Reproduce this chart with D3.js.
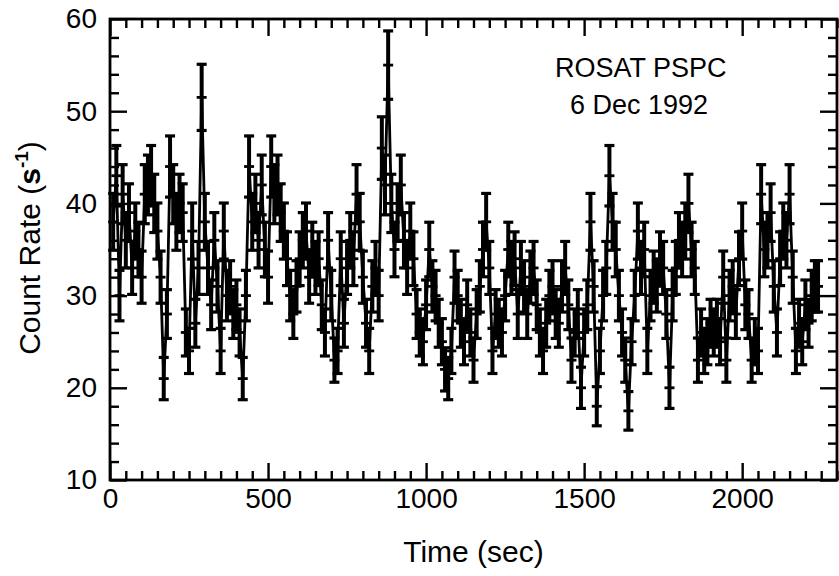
<!DOCTYPE html>
<html>
<head>
<meta charset="utf-8">
<script src="https://cdn.jsdelivr.net/npm/d3@7"></script>
<style>
  body { margin: 0; background: #fff; }
  svg text { font-family: "Liberation Sans", Arial, Helvetica, sans-serif; fill: #000; }
</style>
</head>
<body>
<div id="chart"></div>
<script>
// Light curve, 10 s bins (count rate per bin)
const binSize = 10;
const rates = [
  38, 43, 30, 41, 36, 39, 33, 37, 35, 32,
  41, 42, 43, 40, 37, 32, 21, 28, 44, 41,
  38, 40, 39, 26, 24, 37, 27, 33, 51.5, 38,
  33, 29, 36, 31, 24, 37, 30, 31, 28, 29,
  26, 21, 30, 44, 38, 40, 36, 42, 35, 32,
  44, 41, 42, 39, 37, 34, 30, 28, 31, 34,
  36, 37, 32, 35, 33, 34, 29, 26, 36, 30,
  23, 24, 34, 27, 33, 36, 34, 41, 38, 32,
  27, 24, 31, 33, 30, 46, 42, 55, 40, 35,
  39, 42, 36, 33, 37, 34, 28, 26, 25, 29,
  35, 31, 30, 27, 25, 22, 21, 24, 32, 30,
  27, 25, 29, 26, 23, 28, 31, 35, 38, 33,
  24, 28, 27, 26, 30, 35, 33, 34, 28, 33,
  31, 28, 32, 33, 29, 26, 24, 27, 30, 31,
  28, 27, 31, 33, 29, 23, 26, 28, 20, 26,
  29, 38, 31, 18, 24, 30, 33, 43, 38, 35,
  30, 26, 23, 17.5, 25, 30, 37, 33, 35, 24,
  30, 32, 31, 34, 33, 28, 20, 30, 33, 36,
  35, 37, 40, 35, 33, 23, 26, 24, 25, 27,
  26, 27, 25, 32, 23, 30, 31, 28, 34, 37,
  29, 28, 23, 25, 24, 41, 35, 36, 39, 31,
  26, 34, 37, 36, 41, 32, 24, 27, 25, 29,
  27, 30, 31, 31
];
// effective exposure per point, used for Poisson error bars
const exposure = 4;

const xTicks = [0, 500, 1000, 1500, 2000];
const yTicks = [10, 20, 30, 40, 50, 60];
const annotation = ['ROSAT PSPC', '6 Dec 1992'];

const data = rates.map((r, i) => ({
  t: (i + 1) * binSize,
  r: r,
  e: Math.sqrt(r / exposure)
}));

const W = 839, H = 576;
const margin = { top: 19, right: 2, bottom: 96, left: 110 };
const width = W - margin.left - margin.right;
const height = H - margin.top - margin.bottom;

const svg = d3.select('#chart').append('svg')
    .attr('width', W)
    .attr('height', H);

const g = svg.append('g')
    .attr('transform', `translate(${margin.left},${margin.top})`);

const x = d3.scaleLinear().domain([0, 2300]).range([0, width]);
const y = d3.scaleLinear().domain([10, 60]).range([height, 0]);

// minor ticks every 50 s / 2 counts
const xMinor = d3.range(0, 2301, 50).filter(v => v % 500 !== 0);
const yMinor = d3.range(10, 61, 2).filter(v => v % 10 !== 0);

function styleAxis(sel) {
  sel.select('.domain').remove();
  sel.selectAll('.tick line').attr('stroke', '#000').attr('stroke-width', 2.4);
}

// bottom
g.append('g').attr('transform', `translate(0,${height})`)
  .call(d3.axisBottom(x).tickValues(xMinor).tickSize(-9).tickFormat(''))
  .call(styleAxis);
g.append('g').attr('transform', `translate(0,${height})`)
  .call(d3.axisBottom(x).tickValues(xTicks).tickSize(-17).tickPadding(8).tickFormat(d3.format('d')))
  .call(styleAxis)
  .selectAll('text').attr('font-size', 28).attr('fill', '#000');
// top
g.append('g')
  .call(d3.axisTop(x).tickValues(xMinor).tickSize(-9).tickFormat(''))
  .call(styleAxis);
g.append('g')
  .call(d3.axisTop(x).tickValues(xTicks).tickSize(-17).tickFormat(''))
  .call(styleAxis);
// left
g.append('g')
  .call(d3.axisLeft(y).tickValues(yMinor).tickSize(-9).tickFormat(''))
  .call(styleAxis);
g.append('g')
  .call(d3.axisLeft(y).tickValues(yTicks).tickSize(-17).tickPadding(13).tickFormat(d3.format('d')))
  .call(styleAxis)
  .selectAll('text').attr('font-size', 28).attr('fill', '#000');
// right
g.append('g').attr('transform', `translate(${width},0)`)
  .call(d3.axisRight(y).tickValues(yMinor).tickSize(-9).tickFormat(''))
  .call(styleAxis);
g.append('g').attr('transform', `translate(${width},0)`)
  .call(d3.axisRight(y).tickValues(yTicks).tickSize(-17).tickFormat(''))
  .call(styleAxis);

// frame
g.append('rect')
  .attr('x', 0).attr('y', 0)
  .attr('width', width).attr('height', height)
  .attr('fill', 'none')
  .attr('stroke', '#000')
  .attr('stroke-width', 2.8);

// connecting line
const line = d3.line().x(d => x(d.t)).y(d => y(d.r));
g.append('path')
  .datum(data)
  .attr('d', line)
  .attr('fill', 'none')
  .attr('stroke', '#000')
  .attr('stroke-width', 2.8);

// error bars
const bars = g.append('g').attr('class', 'errorbars')
  .selectAll('g')
  .data(data)
  .enter().append('g');

bars.append('line')
  .attr('x1', d => x(d.t)).attr('x2', d => x(d.t))
  .attr('y1', d => y(d.r - d.e)).attr('y2', d => y(d.r + d.e))
  .attr('stroke', '#000').attr('stroke-width', 4);

const capW = 5;
bars.append('line')
  .attr('x1', d => x(d.t) - capW).attr('x2', d => x(d.t) + capW)
  .attr('y1', d => y(d.r + d.e)).attr('y2', d => y(d.r + d.e))
  .attr('stroke', '#000').attr('stroke-width', 3.2);
bars.append('line')
  .attr('x1', d => x(d.t) - capW).attr('x2', d => x(d.t) + capW)
  .attr('y1', d => y(d.r - d.e)).attr('y2', d => y(d.r - d.e))
  .attr('stroke', '#000').attr('stroke-width', 3.2);
// point markers
bars.append('line')
  .attr('x1', d => x(d.t) - capW).attr('x2', d => x(d.t) + capW)
  .attr('y1', d => y(d.r)).attr('y2', d => y(d.r))
  .attr('stroke', '#000').attr('stroke-width', 2.8);

// axis titles
svg.append('text')
  .attr('x', margin.left + x(1150))
  .attr('y', 562)
  .attr('text-anchor', 'middle')
  .attr('font-size', 30)
  .text('Time (sec)');

const yt = svg.append('text')
  .attr('transform', 'translate(40,248) rotate(-90)')
  .attr('text-anchor', 'middle')
  .attr('font-size', 30);
yt.append('tspan').text('Count Rate (');
yt.append('tspan').attr('font-weight', 'bold').text('s');
yt.append('tspan').attr('font-weight', 'bold').attr('font-size', 19).attr('dy', -12).text('-1');
yt.append('tspan').attr('dy', 12).text(')');

// annotation
svg.selectAll('.note')
  .data(annotation)
  .enter().append('text')
  .attr('class', 'note')
  .attr('x', (d, i) => i === 0 ? 555 : 570)
  .attr('y', (d, i) => 77 + i * 37)
  .attr('font-size', 27)
  .text(d => d);
</script>
</body>
</html>
